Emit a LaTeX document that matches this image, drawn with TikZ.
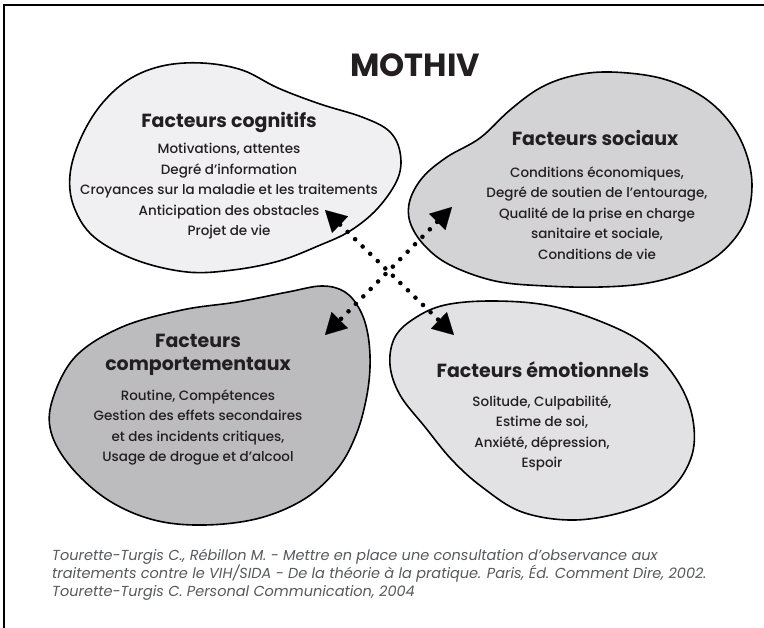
\documentclass[tikz,border=0pt]{standalone}
\usepackage{fontspec}
\setmainfont{Poppins}[UprightFont={* Medium},BoldFont={* Bold},ItalicFont={* Italic}]
\usetikzlibrary{arrows.meta}
\definecolor{cogfill}{RGB}{240,240,242}
\definecolor{socfill}{RGB}{211,211,213}
\definecolor{behfill}{RGB}{188,188,190}
\definecolor{emofill}{RGB}{226,226,228}
\definecolor{ink}{RGB}{35,31,32}
\definecolor{capgray}{RGB}{88,89,91}
\begin{document}
\begin{tikzpicture}[x=1pt,y=-1pt,
  blob/.style={draw=black,line width=1.6pt},
  head/.style={font=\fontsize{19}{23}\selectfont\bfseries,text=ink,align=center,inner sep=0pt},
  body/.style={font=\fontsize{13.5}{20.5}\selectfont,text=ink,align=center,inner sep=0pt},
  captext/.style={font=\fontsize{14.5}{18}\selectfont\itshape,text=capgray,inner sep=0pt,anchor=base west},
  tip/.tip={Triangle[length=21pt,width=23pt,line width=0.1pt]},
  dots/.style={line width=4.6pt,dash pattern=on 0pt off 10.5pt,line cap=round,tip-tip}
]
\useasboundingbox (0,0) rectangle (764,628);
\fill[white] (0,0) rectangle (764,628);
\draw[line width=1.5pt] (4,628) -- (4,5) -- (764,5);

% title
\node[font=\fontsize{32}{32}\selectfont\bfseries,text=ink,inner sep=0pt] (title) at (415,65) {MOTHIV};

% blobs
\draw[blob,fill=cogfill] plot[smooth cycle,tension=0.6] coordinates {
  (202,63) (242,70) (278,88) (320,104) (362,117) (389,131) (400,152) (398,178)
  (378,208) (350,231) (318,246) (279,261) (233,270) (187,272) (136,260) (94,237)
  (74,207) (70,175) (80,140) (100,106) (128,80) (162,66)};
\draw[blob,fill=socfill] plot[smooth cycle,tension=0.6] coordinates {
  (610,72) (660,78) (700,95) (728,120) (745,150) (752,185) (745,222) (722,252)
  (690,271) (648,283) (601,287) (546,286) (495,281) (450,265) (424,245) (410,222)
  (410,200) (423,177) (447,157) (480,138) (510,110) (540,88) (572,76)};
\draw[blob,fill=behfill] plot[smooth cycle,tension=0.6] coordinates {
  (322,286) (345,292) (360,310) (368,335) (370,367) (366,400) (356,435) (338,468)
  (306,498) (260,518) (205,525) (154,520) (108,500) (71,467) (51,432) (53,398)
  (76,356) (122,327) (182,310) (237,302) (288,292)};
\draw[blob,fill=emofill] plot[smooth cycle,tension=0.6] coordinates {
  (491,301) (546,305) (597,320) (643,343) (675,377) (692,415) (692,455) (670,490)
  (630,510) (575,520) (522,512) (482,487) (452,460) (425,427) (400,395) (390,365)
  (395,337) (415,318) (445,305)};

% texts
\node[head,anchor=base] (cogT) at (229,128) {Facteurs cognitifs};
\node[body] (cogB) at (229,191.5) {Motivations, attentes\\Degré d’information\\Croyances sur la maladie et les traitements\\Anticipation des obstacles\\Projet de vie};

\node[head,anchor=base] (socT) at (595,146) {Facteurs sociaux};
\node[body] (socB) at (597,213) {Conditions économiques,\\Degré de soutien de l’entourage,\\Qualité de la prise en charge\\sanitaire et sociale,\\Conditions de vie};

\node[head] (behT) at (198,355) {Facteurs\\comportementaux};
\node[body] (behB) at (198,427.5) {Routine, Compétences\\Gestion des effets secondaires\\et des incidents critiques,\\Usage de drogue et d’alcool};

\node[head,anchor=base] (emoT) at (543,378) {Facteurs émotionnels};
\node[body] (emoB) at (542,433.5) {Solitude, Culpabilité,\\Estime de soi,\\Anxiété, dépression,\\Espoir};

% connectors
\coordinate (cogtip) at (325,210);
\coordinate (emotip) at (454,335);
\coordinate (soctip) at (452,207);
\coordinate (behtip) at (325,335);
\draw[dots] (cogtip) -- (emotip);
\draw[dots] (soctip) -- (behtip);

% caption
\node[captext] (cap1) at (52,561) {Tourette-Turgis C., Rébillon M. - Mettre en place une consultation d’observance aux};
\node[captext] (cap2) at (52,578.5) {traitements contre le VIH/SIDA - De la théorie à la pratique. Paris, Éd. Comment Dire, 2002.};
\node[captext] (cap3) at (52,596) {Tourette-Turgis C. Personal Communication, 2004};
\end{tikzpicture}
\end{document}
